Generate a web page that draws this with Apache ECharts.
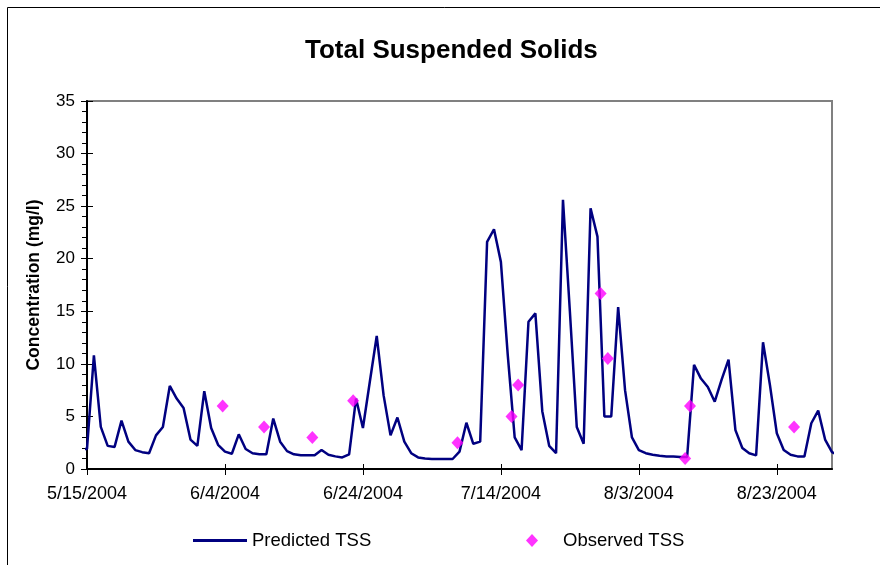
<!DOCTYPE html>
<html>
<head>
<meta charset="utf-8">
<script src="https://cdn.jsdelivr.net/npm/echarts@6/dist/echarts.min.js"></script>
<style>html,body{margin:0;padding:0;background:#fff}#c{width:880px;height:565px}</style>
</head>
<body>
<div id="c"></div>
<script>
// Daily predicted TSS (mg/l), first value on 5/14/2004
const predictedStart = '2004-05-14';
const predictedTSS = [1.9, 1.9, 10.8, 4.0, 2.2, 2.1, 4.6, 2.6, 1.8, 1.6, 1.5, 3.2, 4.0, 7.9, 6.7, 5.8, 2.8, 2.2, 7.4, 3.9, 2.3, 1.65, 1.45, 3.3, 1.9, 1.5, 1.4, 1.4, 4.8, 2.6, 1.7, 1.4, 1.3, 1.3, 1.3, 1.8, 1.35, 1.2, 1.1, 1.4, 6.7, 3.9, 8.3, 12.65, 7.0, 3.2, 4.9, 2.6, 1.5, 1.1, 1.0, 0.95, 0.95, 0.95, 0.95, 1.65, 4.4, 2.4, 2.6, 21.6, 22.8, 19.7, 10.8, 3.0, 1.8, 14.0, 14.8, 5.5, 2.2, 1.5, 25.6, 15.0, 4.0, 2.4, 24.8, 22.1, 5.0, 5.0, 15.4, 7.5, 3.0, 1.8, 1.5, 1.35, 1.25, 1.2, 1.2, 1.15, 1.15, 9.9, 8.6, 7.8, 6.4, 8.5, 10.4, 3.7, 2.0, 1.5, 1.3, 12.05, 8.0, 3.4, 1.8, 1.35, 1.2, 1.2, 4.35, 5.55, 2.8, 1.6, 1.3];

// Observed TSS samples
const observedDates = ['2004-06-03T16:00', '2004-06-09T16:00', '2004-06-16T16:00', '2004-06-22T14:00', '2004-07-07T17:00', '2004-07-15T13:00', '2004-07-16T12:00', '2004-07-28T11:00', '2004-07-29T12:00', '2004-08-09T17:00', '2004-08-10T10:00', '2004-08-25T12:00'];
const observedTSS = [6.0, 4.0, 3.0, 6.5, 2.5, 5.0, 8.0, 16.7, 10.5, 1.0, 6.0, 4.0];

// Axis definition
const axisStart = '2004-05-15';
const axisEnd = '2004-08-31';
const xTickDays = [0, 20, 40, 60, 80, 100];
const yTicks = [0, 5, 10, 15, 20, 25, 30, 35];

const DAY = 86400000;
function toMs(s) { return Date.parse(s.length > 10 ? s + ':00Z' : s + 'T00:00:00Z'); }
const t0 = toMs(axisStart);
const dayOf = s => (toMs(s) - t0) / DAY;
const predOffset = dayOf(predictedStart);
const predData = predictedTSS.map((v, i) => [predOffset + i, v]);
const obsData = observedDates.map((d, i) => [dayOf(d), observedTSS[i]]);
const xMax = dayOf(axisEnd);
function fmtDay(d) {
  const dt = new Date(t0 + d * DAY);
  return (dt.getUTCMonth() + 1) + '/' + dt.getUTCDate() + '/' + dt.getUTCFullYear();
}

const FONT = "'Liberation Sans', Arial, sans-serif";
const chart = echarts.init(document.getElementById('c'), null, {renderer: 'canvas'});
const xBase = {type: 'value', gridIndex: 0, position: 'bottom', min: 0, max: xMax, interval: 20, splitLine: {show: false}};
const yBase = {type: 'value', gridIndex: 0, position: 'left', min: yTicks[0], max: yTicks[yTicks.length - 1], interval: 5, splitLine: {show: false}};
chart.setOption({
  animation: false,
  backgroundColor: '#fff',
  textStyle: {fontFamily: FONT},
  title: {
    text: 'Total Suspended Solids', left: 305, top: 38, padding: 0,
    textStyle: {fontFamily: FONT, fontSize: 26, fontWeight: 'bold', color: '#000'}
  },
  graphic: [{
    type: 'rect', silent: true, z: -10,
    shape: {x: 7.5, y: 7.5, width: 900, height: 600},
    style: {fill: 'none', stroke: '#000', lineWidth: 1}
  }],
  grid: {left: 87, top: 101, width: 745, height: 368, show: true, borderColor: '#808080', borderWidth: 2, backgroundColor: '#fff'},
  xAxis: [
    Object.assign({}, xBase, {
      axisLine: {lineStyle: {color: '#000', width: 2}},
      axisTick: {show: true, inside: false, length: 6, customValues: xTickDays, lineStyle: {color: '#000', width: 1}},
      axisLabel: {fontFamily: FONT, fontSize: 18, color: '#000', margin: 16, customValues: xTickDays, formatter: v => fmtDay(v)}
    }),
    Object.assign({}, xBase, {
      axisLine: {show: false},
      axisTick: {show: true, inside: true, length: 5, customValues: xTickDays, lineStyle: {color: '#000', width: 1}},
      axisLabel: {show: false}
    })
  ],
  yAxis: [
    Object.assign({}, yBase, {
      name: 'Concentration (mg/l)', nameLocation: 'middle', nameGap: 44,
      nameTextStyle: {fontFamily: FONT, fontSize: 17.5, fontWeight: 'bold', color: '#000'},
      axisLine: {show: true, lineStyle: {color: '#000', width: 2}},
      axisTick: {show: true, inside: false, length: 6, lineStyle: {color: '#000', width: 1}},
      minorTick: {show: true, splitNumber: 5, length: 5, lineStyle: {color: '#000', width: 1}},
      axisLabel: {fontFamily: FONT, fontSize: 17, color: '#000', margin: 12}
    }),
    Object.assign({}, yBase, {
      axisLine: {show: false},
      axisTick: {show: true, inside: true, length: 6, lineStyle: {color: '#000', width: 1}},
      axisLabel: {show: false}
    })
  ],
  legend: [
    {
      data: [{name: 'Predicted TSS', icon: 'rect'}], left: 193, top: 531, padding: 0,
      itemWidth: 54, itemHeight: 3, selectedMode: false,
      textStyle: {fontFamily: FONT, fontSize: 18.5, color: '#000'}
    },
    {
      data: [{name: 'Observed TSS', icon: 'diamond'}], left: 526, top: 531, padding: 0,
      itemWidth: 12, itemHeight: 13, selectedMode: false,
      textStyle: {fontFamily: FONT, fontSize: 18.5, color: '#000', padding: [0, 0, 0, 20]}
    }
  ],
  series: [
    {
      name: 'Predicted TSS', type: 'line', xAxisIndex: 0, yAxisIndex: 0,
      data: predData, showSymbol: false, symbol: 'none', clip: false, smooth: false,
      lineStyle: {color: '#000080', width: 2.5}, itemStyle: {color: '#000080'}, z: 3
    },
    {
      name: 'Observed TSS', type: 'scatter', xAxisIndex: 0, yAxisIndex: 0,
      data: obsData, symbol: 'diamond', symbolSize: [12, 13], clip: false,
      itemStyle: {color: '#ff00ff'}, z: 4
    }
  ]
});
</script>
</body>
</html>
